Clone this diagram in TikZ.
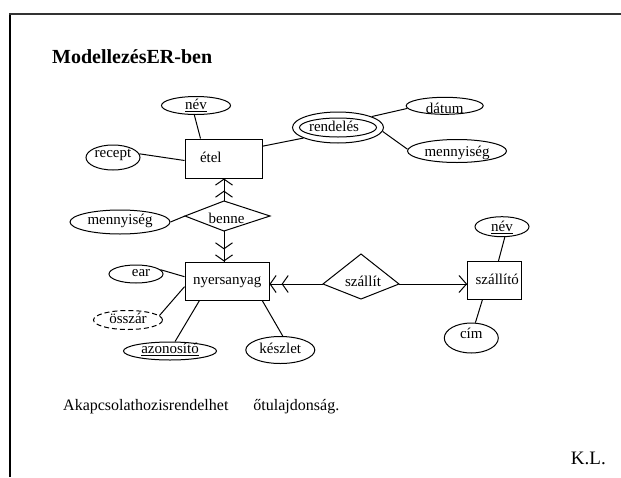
\documentclass[tikz,border=0pt]{standalone}
\usepackage{fontspec}
\setmainfont{Liberation Serif}
\usetikzlibrary{shapes.geometric,arrows.meta}
\begin{document}
\begin{tikzpicture}[x=1pt,y=-1pt,
  lbl/.style={font=\fontsize{15}{18}\selectfont, text height=10pt, text depth=3pt, inner sep=0pt},
  ent/.style={lbl, draw, rectangle, line width=1pt, align=left},
  % text height sets how far the baseline sits below the ellipse centre (half of it)
  attr/.style={font=\fontsize{15}{18}\selectfont, text depth=0pt, inner xsep=0pt, inner ysep=-4pt, draw, ellipse, line width=1pt},
  conn/.style={line width=1pt},
  many/.style={-{Straight Barb[length=6pt,width=17pt,sep=5pt]Straight Barb[length=6pt,width=17pt]}},
  one/.style={-{Straight Barb[length=7.5pt,width=17pt]}},
]
\useasboundingbox (0,0) rectangle (621,477);

% page frame
\draw[line width=1.2pt] (10,477) -- (10,14);
\draw[line width=1.6pt, black!80] (9.4,14) -- (621,14);

% headings and notes
\node[font=\bfseries\fontsize{20}{24}\selectfont, anchor=base west, inner sep=0pt] (title) at (52,63.5) {ModellezésER-ben};
\node[font=\fontsize{16}{19}\selectfont, anchor=base west, inner sep=0pt] (note) at (63,410) {Akapcsolathozisrendelhet\hspace{25pt}őtulajdonság.};
\node[font=\fontsize{19}{23}\selectfont, anchor=base east, inner sep=0pt] (kl) at (606,464) {K.L.};

% entities
\node[ent, minimum width=77pt, minimum height=39pt, text width=77pt] (etel) at (223.5,158.5) {\noindent\hspace*{15pt}étel};
\node[ent, minimum width=84pt, minimum height=38pt, text width=84pt] (nyers) at (227,281) {\noindent\hspace*{8pt}nyersanyag};
\node[ent, minimum width=53.5pt, minimum height=37.6pt, text width=53.5pt] (szallito) at (494.4,280.5) {\noindent\hspace*{8pt}szállító};

% attributes
\node[attr, text height=7.6pt, minimum width=69pt, minimum height=18pt] (nev1) at (196,105.5) {\underline{név}};
\node[attr, text height=0.5pt, minimum width=54pt, minimum height=25pt] (recept) at (113,157.5) {recept};
\node[attr, text height=4pt, minimum width=100pt, minimum height=24pt] (menny1) at (120,222) {mennyiség};
\node[attr, minimum width=91pt, minimum height=31pt] (rend) at (338,127.5) {};
\node[attr, text height=8.4pt, inner xsep=-3pt, minimum width=77pt, minimum height=19pt] (rendin) at (338,127.5) {rendelés\hspace*{8pt}};
\node[attr, text height=15pt, minimum width=77pt, minimum height=17pt] (datum) at (444.7,105.8) {dátum};
\node[attr, text height=10pt, minimum width=99pt, minimum height=23pt] (menny2) at (457,151) {mennyiség};
\node[attr, text height=5.4pt, minimum width=54pt, minimum height=18pt] (ear) at (136,274) {\hspace*{10pt}ear};
\node[attr, text height=6.6pt, dash pattern=on 5pt off 3pt, minimum width=69pt, minimum height=19pt] (ossz) at (128,320) {összár};
\node[attr, text height=4.6pt, minimum width=93pt, minimum height=18pt] (azon) at (170,351) {\underline{azonosító}};
\node[attr, text height=6.6pt, minimum width=69pt, minimum height=27pt] (kesz) at (280.3,350) {készlet};
\node[attr, text height=10pt, minimum width=54pt, minimum height=20pt] (nev2) at (502,226.7) {\underline{név}};
\node[attr, text height=0.6pt, minimum width=54pt, minimum height=30pt] (cim) at (471.3,338) {cím};

% relationship: benne
\coordinate (bL) at (185,216);
\coordinate (bT) at (224,201);
\coordinate (bR) at (270,216);
\coordinate (bB) at (224,231);
\draw[conn] (bL) -- (bT) -- (bR) -- (bB) -- cycle;
\node[lbl] (benne) at (226.5,220) {benne};

% relationship: szállít
\coordinate (sL) at (323,284);
\coordinate (sT) at (361,254);
\coordinate (sR) at (399,284);
\coordinate (sB) at (361,299);
\draw[conn] (sL) -- (sT) -- (sR) -- (sB) -- cycle;
\node[lbl] (szallit) at (363,282.5) {szállít};

% attribute links
\draw[conn] (nev1.-100) -- ([xshift=16pt]etel.north west);
\draw[conn] (recept.8) -- ([yshift=-2pt]etel.west);
\draw[conn] ([yshift=-7.7pt]etel.north east) -- (rend.197);
\draw[conn] (rend.18) -- (datum.184);
\draw[conn] (rend.-5) -- (menny2.178);
\draw[conn] (menny1.east) -- (bL);
\draw[conn] (ear.10) -- ([yshift=4.3pt]nyers.west);
\draw[conn] (ossz.8) -- ([yshift=-5.7pt]nyers.west);
\draw[conn] (azon.62) -- ([xshift=15pt]nyers.south west);
\draw[conn] (kesz.80) -- ([xshift=-7.3pt]nyers.south east);
\draw[conn] (nev2.-75) -- ([xshift=4pt]szallito.north);
\draw[conn] (cim.75) -- ([xshift=-12pt]szallito.south);

% relationship links with cardinality tips
\draw[conn] (bT) -- (bT |- etel.south);
\draw[conn, many] (bT) -- (bT |- etel.south);
\draw[conn] (bB) -- (bB |- nyers.north);
\draw[conn, many] (bB) -- (bB |- nyers.north);
\draw[conn] (sL) -- (sL -| nyers.east);
\draw[conn, many] (sL) -- (sL -| nyers.east);
\draw[conn] (sR) -- (sR -| szallito.west);
\draw[conn, one] (sR) -- (sR -| szallito.west);
\end{tikzpicture}
\end{document}
